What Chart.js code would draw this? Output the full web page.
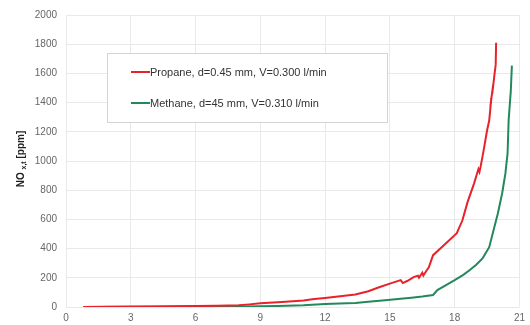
<!DOCTYPE html>
<html>
<head>
<meta charset="utf-8">
<script src="https://cdn.jsdelivr.net/npm/chart.js@4.4.1/dist/chart.umd.min.js"></script>
<style>
  html, body { margin: 0; padding: 0; background: #fff; }
  #wrap { width: 530px; height: 325px; position: relative; }
</style>
</head>
<body>
<div id="wrap"><canvas id="c" width="530" height="325"></canvas></div>
<script>
// Series labels
const propaneLabel = 'Propane, d=0.45 mm, V=0.300 l/min';
const methaneLabel = 'Methane, d=45 mm, V=0.310 l/min';

// Propane flame: time axis and NOx concentration
const propaneX = [0.8, 2, 4, 6, 7, 8, 8.5, 9, 10, 11, 11.5, 12, 12.5, 13, 13.4, 14, 14.5, 15, 15.5, 15.6, 15.8,
  16.1, 16.3, 16.35, 16.5, 16.55, 16.7, 16.8, 17.0, 17.5, 18.1, 18.36, 18.6, 18.9, 19.1, 19.15, 19.2,
  19.35, 19.5, 19.6, 19.7, 19.65, 19.78, 19.74, 19.85, 19.9, 19.92];
const propaneY = [0, 2, 4, 6, 8, 12, 18, 25, 35, 45, 55, 62, 70, 78, 85, 108, 135, 160, 184, 164, 178,
  205, 215, 200, 235, 215, 250, 270, 355, 423, 505, 594, 720, 847, 945, 925, 960,
  1080, 1209, 1277, 1430, 1370, 1520, 1460, 1600, 1660, 1810];

// Methane flame: time axis and NOx concentration
const methaneX = [0.8, 3, 6, 8, 9, 9.8, 11, 12, 13, 13.4, 14, 14.9, 15.5, 16, 16.5, 17, 17.2, 17.6, 18, 18.4,
  18.7, 19, 19.3, 19.6, 19.8, 20.0, 20.2, 20.35, 20.45, 20.5, 20.6, 20.65];
const methaneY = [0, 2, 3, 4, 5, 7, 12, 20, 25, 28, 36, 48, 56, 64, 72, 82, 116, 150, 184, 220,
  253, 290, 335, 410, 526, 640, 779, 915, 1050, 1280, 1480, 1653];

// Axis ticks
const xTicks = [0, 3, 6, 9, 12, 15, 18, 21];
const yTicks = [0, 200, 400, 600, 800, 1000, 1200, 1400, 1600, 1800, 2000];

const toPoints = (xs, ys) => xs.map((x, i) => ({ x: x, y: ys[i] }));

// Boxed legend placed inside the plot area
const boxLegend = {
  id: 'boxLegend',
  afterDatasetsDraw(chart) {
    const ctx = chart.ctx;
    ctx.save();
    ctx.fillStyle = '#ffffff';
    ctx.fillRect(107.5, 53.5, 280, 69);
    ctx.strokeStyle = '#d4d4d4';
    ctx.lineWidth = 1;
    ctx.strokeRect(107.5, 53.5, 280, 69);
    const rows = [72, 103];
    chart.data.datasets.forEach((ds, i) => {
      const y = rows[i];
      ctx.strokeStyle = ds.borderColor;
      ctx.lineWidth = 2;
      ctx.beginPath();
      ctx.moveTo(131, y);
      ctx.lineTo(150, y);
      ctx.stroke();
      ctx.fillStyle = '#333333';
      ctx.font = '11px "Liberation Sans", Arial, sans-serif';
      ctx.textBaseline = 'middle';
      ctx.textAlign = 'left';
      ctx.fillText(ds.label, 150, y + 0.5);
    });
    ctx.restore();
  }
};

// Vertical y-axis title with subscript
const yTitle = {
  id: 'yTitle',
  afterDraw(chart) {
    const ctx = chart.ctx;
    const area = chart.chartArea;
    ctx.save();
    ctx.translate(21, (area.top + area.bottom) / 2 - 2);
    ctx.rotate(-Math.PI / 2);
    ctx.fillStyle = '#222222';
    ctx.textBaseline = 'middle';
    const big = 'bold 10px "Liberation Sans", Arial, sans-serif';
    const small = 'bold 7px "Liberation Sans", Arial, sans-serif';
    const parts = [['NO ', big, 0], ['x,t', small, 3], [' [ppm]', big, 0]];
    let total = 0;
    parts.forEach(p => { ctx.font = p[1]; total += ctx.measureText(p[0]).width; });
    let x = -total / 2;
    parts.forEach(p => {
      ctx.font = p[1];
      ctx.fillText(p[0], x, p[2]);
      x += ctx.measureText(p[0]).width;
    });
    ctx.restore();
  }
};

new Chart(document.getElementById('c'), {
  type: 'line',
  data: {
    datasets: [
      {
        label: propaneLabel,
        data: toPoints(propaneX, propaneY),
        borderColor: '#e8222b',
        borderWidth: 2,
        pointRadius: 0,
        tension: 0,
        fill: false
      },
      {
        label: methaneLabel,
        data: toPoints(methaneX, methaneY),
        borderColor: '#23895c',
        borderWidth: 2,
        pointRadius: 0,
        tension: 0,
        fill: false
      }
    ]
  },
  options: {
    responsive: false,
    animation: false,
    devicePixelRatio: 1,
    layout: { padding: { left: 0, right: 5, top: 14, bottom: 0 } },
    plugins: {
      legend: { display: false },
      tooltip: { enabled: false }
    },
    scales: {
      x: {
        type: 'linear',
        min: 0,
        max: 21,
        afterBuildTicks: s => { s.ticks = xTicks.map(v => ({ value: v })); },
        afterFit: s => { s.height = 18; },
        grid: { color: '#e9e9e9', drawTicks: false },
        border: { display: false },
        ticks: {
          color: '#666666',
          font: { family: '"Liberation Sans", Arial, sans-serif', size: 10 },
          padding: 5,
          maxRotation: 0,
          autoSkip: false,
          callback: v => String(v)
        }
      },
      y: {
        type: 'linear',
        min: 0,
        max: 2000,
        afterBuildTicks: s => { s.ticks = yTicks.map(v => ({ value: v })); },
        afterFit: s => { s.width = 66; },
        grid: { color: '#e9e9e9', drawTicks: false },
        border: { display: false },
        ticks: {
          color: '#666666',
          font: { family: '"Liberation Sans", Arial, sans-serif', size: 10 },
          padding: 9,
          callback: v => String(v)
        }
      }
    }
  },
  plugins: [boxLegend, yTitle]
});
</script>
</body>
</html>
